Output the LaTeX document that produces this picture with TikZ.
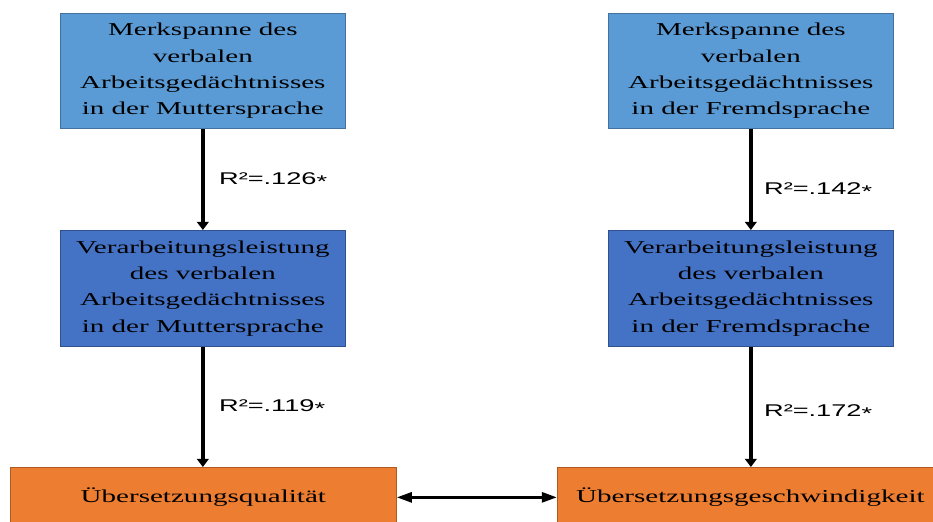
\documentclass[tikz,border=0pt]{standalone}
\usepackage{fontspec}
\setmainfont{Liberation Serif}[FakeStretch=1.6]
\newfontfamily\lblfont{Liberation Sans}[FakeStretch=1.6]
\usepackage{tikz}
\usetikzlibrary{arrows.meta,positioning}
\definecolor{spanblue}{RGB}{91,155,213}
\definecolor{spanedge}{RGB}{65,113,156}
\definecolor{procblue}{RGB}{68,114,196}
\definecolor{procedge}{RGB}{47,82,143}
\definecolor{outorange}{RGB}{237,125,49}
\definecolor{outedge}{RGB}{174,90,33}
\newcommand{\lowstar}{\raisebox{-0.35ex}{*}}

\begin{document}
\begin{tikzpicture}[
  box/.style={line width=0.6pt, align=center, anchor=north west, minimum width=8.55cm,
    font=\fontsize{15.5}{22.5}\selectfont},
  outbox/.style={line width=0.6pt, anchor=north west, minimum width=11.58cm, minimum height=1.8cm,
    fill=outorange, draw=outedge, font=\fontsize{15.5}{22.5}\selectfont},
  rlabel/.style={anchor=west, font=\lblfont\fontsize{14.5}{18}\selectfont},
  vlink/.style={line width=3.4pt, -{Triangle[width=10pt,length=7pt]}},
  hlink/.style={line width=2.6pt, {Triangle[width=8.5pt,length=13pt]}-{Triangle[width=8.5pt,length=13pt]}}]
  \useasboundingbox (0,0) rectangle (27.99,-15.63);
  % spans
  \node[box, fill=spanblue, draw=spanedge, minimum height=3.45cm] (b1) at (1.80,-0.39)
    {Merkspanne des\\verbalen\\Arbeitsgedächtnisses\\in der Muttersprache};
  \node[box, fill=spanblue, draw=spanedge, minimum height=3.45cm] (b2) at (18.24,-0.39)
    {Merkspanne des\\verbalen\\Arbeitsgedächtnisses\\in der Fremdsprache};
  % processing
  \node[box, fill=procblue, draw=procedge, minimum height=3.48cm] (b3) at (1.80,-6.90)
    {Verarbeitungsleistung\\des verbalen\\Arbeitsgedächtnisses\\in der Muttersprache};
  \node[box, fill=procblue, draw=procedge, minimum height=3.48cm] (b4) at (18.24,-6.90)
    {Verarbeitungsleistung\\des verbalen\\Arbeitsgedächtnisses\\in der Fremdsprache};
  % translation
  \node[outbox] (b5) at (0.30,-14.01) {Übersetzungsqualität};
  \node[outbox] (b6) at (16.71,-14.01) {Übersetzungsgeschwindigkeit};

  \draw[vlink] (b1) -- (b3);
  \draw[vlink] (b2) -- (b4);
  \draw[vlink] (b3.south) -- (b3.south |- b5.north);
  \draw[vlink] (b4.south) -- (b4.south |- b6.north);
  \draw[hlink] (b5) -- (b6);

  \node[rlabel] (r1) at (6.45,-5.40) {R²=.126\lowstar};
  \node[rlabel] (r2) at (6.45,-12.21) {R²=.119\lowstar};
  \node[rlabel] (r3) at (22.80,-5.70) {R²=.142\lowstar};
  \node[rlabel] (r4) at (22.80,-12.36) {R²=.172\lowstar};
\end{tikzpicture}
\end{document}
